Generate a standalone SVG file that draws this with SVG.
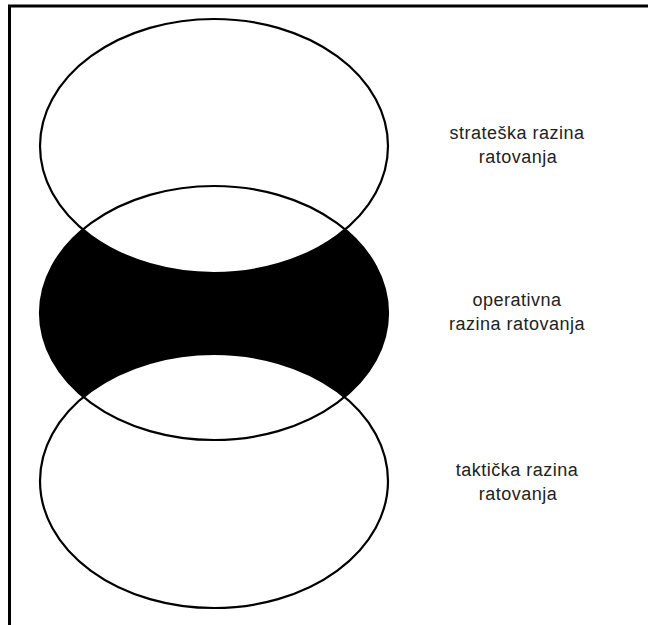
<svg xmlns="http://www.w3.org/2000/svg" width="648" height="625" viewBox="0 0 648 625">
<style>
.ol{fill:none;stroke:#000;stroke-width:2.2}
.wf{fill:#fff;stroke:#000;stroke-width:2.2}
.lbl{font-family:"Liberation Sans",Arial,sans-serif;font-size:18px;letter-spacing:0.5px;fill:#222;text-anchor:middle}
</style>
<rect width="648" height="625" fill="#fff"/>
<g id="frame">
<line x1="8" y1="6" x2="648" y2="6" stroke="#000" stroke-width="3"/>
<line x1="9.5" y1="5" x2="9.5" y2="625" stroke="#000" stroke-width="3"/>
</g>
<g id="operativna">
<ellipse cx="214" cy="313" rx="174" ry="127" fill="#000"/>
</g>
<g id="strateska">
<ellipse class="wf" cx="214" cy="146" rx="174" ry="127"/>
</g>
<g id="takticka">
<ellipse class="wf" cx="214" cy="481" rx="174" ry="127"/>
</g>
<g id="operativna-outline">
<ellipse class="ol" cx="214" cy="313" rx="174" ry="127"/>
</g>
<g id="labels">
<text class="lbl" x="517" y="139">strateška razina</text>
<text class="lbl" x="518" y="163">ratovanja</text>
<text class="lbl" x="517" y="306">operativna</text>
<text class="lbl" x="517" y="330">razina ratovanja</text>
<text class="lbl" x="517" y="476">taktička razina</text>
<text class="lbl" x="518" y="500">ratovanja</text>
</g>
</svg>
